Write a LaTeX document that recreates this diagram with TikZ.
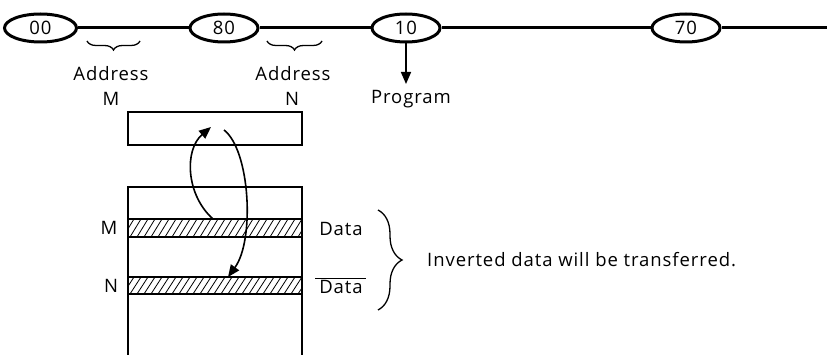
\documentclass[tikz,border=0pt]{standalone}
\usepackage{fontspec}
\setmainfont[LetterSpace=5]{Open Sans}
\usetikzlibrary{decorations.pathreplacing,arrows.meta,shapes.geometric}
\begin{document}
\begin{tikzpicture}[x=1pt,y=-1pt,
  every node/.style={font=\fontsize{18.5}{21}\selectfont, inner sep=0pt},
  addr/.style={ellipse, draw, line width=3pt, minimum width=68pt, minimum height=28pt},
  bus/.style={line width=3pt},
  box/.style={line width=1.8pt},
  brc/.style={decorate, decoration={brace, amplitude=#1}, line width=1.3pt},
  arr/.style={line width=1.6pt, -{Triangle[length=12pt,width=10pt]}},
  lbl/.style={anchor=center}]
\useasboundingbox (0,0) rectangle (827,355);
% bus line with address ellipses
\node[addr, minimum width=72pt] (a00) at (40.5,28) {00};
\node[addr] (a80) at (224,28) {80};
\node[addr] (a10) at (406,28) {10};
\node[addr] (a70) at (686,28) {70};
\coordinate (busend) at (827,28);
\draw[bus] (a00) -- (a80);
\draw[bus] (a80) -- (a10);
\draw[bus] (a10) -- (a70);
\draw[bus] (a70.east) -- (busend);
% braces under the bus
\coordinate (b1r) at (140,41); \coordinate (b1l) at (87,41);
\coordinate (b2r) at (322,41); \coordinate (b2l) at (267,41);
\draw[brc=9pt] (b1r) -- (b1l);
\draw[brc=9pt] (b2r) -- (b2l);
\node[lbl] (adm) at (111,74) {Address};
\node[lbl] (m1) at (111,99) {M};
\node[lbl] (adn) at (293,74) {Address};
\node[lbl] (n1) at (292,99) {N};
% program arrow
\node[lbl] (prog) at (411,99) {Program};
\coordinate (parr) at (406,84);
\draw[arr] (a10.south) -- (parr);
% upper register box
\draw[box] (128,112) rectangle (302,145);
\coordinate (ut) at (211,127);
\coordinate (us) at (224,130);
% lower memory box (open at bottom)
\draw[box] (128,355) -- (128,187) -- (302,187) -- (302,355);
% hatched bands
\foreach \yt/\yb in {219/237, 277/294} {
  \begin{scope}
    \clip (128,\yt) rectangle (302,\yb);
    \foreach \x in {116,123,...,310} {
      \draw[line width=0.8pt] (\x,\yb) -- (\x+11,\yt);
    }
  \end{scope}
  \draw[line width=1.2pt] (128,\yt) rectangle (302,\yb);
}
\coordinate (ms) at (213,219);
\coordinate (nt) at (228,277);
\node[lbl] (mlab) at (109,228) {M};
\node[lbl] (nlab) at (111,286) {N};
% transfer arrows
\draw[arr] (ms) .. controls (186,195) and (184,150) .. (ut);
\draw[arr] (us) .. controls (250,150) and (255,240) .. (nt);
% data labels
\node[lbl] (d1) at (341,229) {Data};
\node[lbl] (d2) at (341,287) {Data};
\draw[line width=1.2pt] ([xshift=-4pt,yshift=2pt]d2.north west) -- ([xshift=3pt,yshift=2pt]d2.north east);
\coordinate (rbt) at (378,210); \coordinate (rbb) at (378,310);
\draw[brc=24pt] (rbt) -- (rbb);
\node[anchor=west] (inv) at (427,260) {Inverted data will be transferred.};
\end{tikzpicture}
\end{document}
